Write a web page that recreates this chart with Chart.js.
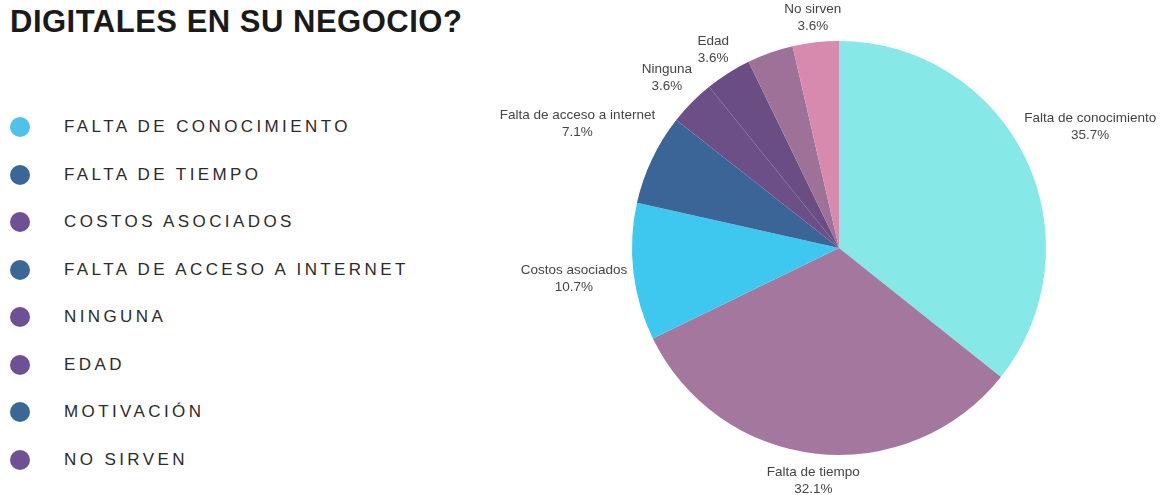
<!DOCTYPE html>
<html lang="es">
<head>
<meta charset="utf-8">
<title>Digitales en su negocio</title>
<script src="https://cdn.jsdelivr.net/npm/chart.js@4.4.1/dist/chart.umd.min.js"></script>
<style>
  html, body { margin: 0; padding: 0; background: #ffffff; }
  body { width: 1162px; height: 495px; position: relative; overflow: hidden; }
  #title {
    position: absolute; left: 10px; top: 4px;
    font-family: "Liberation Sans", Arial, sans-serif; font-weight: bold;
    font-size: 31px; letter-spacing: 0.5px; color: #1a1a1a; white-space: nowrap;
  }
  #legend { position: absolute; left: 0; top: 0; }
  .item { position: absolute; left: 10px; height: 20px; display: flex; align-items: center; }
  .dot { width: 20px; height: 20px; border-radius: 50%; }
  .txt {
    position: absolute; left: 54px; white-space: nowrap;
    font-family: "Liberation Sans", Arial, sans-serif; font-size: 17px;
    letter-spacing: 3.4px; color: #2b2b2b; line-height: 20px;
  }
  #chartBox { position: absolute; left: 470px; top: 0; width: 692px; height: 495px; }
</style>
</head>
<body>
<div id="title">DIGITALES EN SU NEGOCIO?</div>
<div id="legend"></div>
<div id="chartBox"><canvas id="pie"></canvas></div>
<script>
// Reasons for not using digital tools, share of answers (%)
const categories = [
  "Falta de conocimiento",
  "Falta de tiempo",
  "Costos asociados",
  "Falta de acceso a internet",
  "Ninguna",
  "Edad",
  "Motivación",
  "No sirven"
];
const shares = [35.7, 32.1, 10.7, 7.1, 3.6, 3.6, 3.6, 3.6];
const sliceColors = ["#87e8e8", "#a4789e", "#3ec8ef", "#3b6597", "#6c4f87", "#6a4e83", "#9e7198", "#d88aae"];
const legendColors = ["#4dc3eb", "#3b6797", "#6e5094", "#3b6797", "#6e5094", "#6e5094", "#3b6797", "#6e5094"];

// Left-hand legend
const legend = document.getElementById("legend");
categories.forEach((name, i) => {
  const row = document.createElement("div");
  row.className = "item";
  row.style.top = (117 + i * 47.5) + "px";
  const dot = document.createElement("div");
  dot.className = "dot";
  dot.style.background = legendColors[i];
  const txt = document.createElement("div");
  txt.className = "txt";
  txt.textContent = name.toUpperCase();
  row.appendChild(dot);
  row.appendChild(txt);
  legend.appendChild(row);
});

// Outside labels: name and percentage, pushed out along the slice's mid angle.
// Labels are placed from the last slice backwards; one that would overlap an
// already placed label is left out.
const outsideLabels = {
  id: "outsideLabels",
  afterDatasetsDraw(chart) {
    const ctx = chart.ctx;
    const arcs = chart.getDatasetMeta(0).data;
    const values = chart.data.datasets[0].data;
    const total = values.reduce((a, b) => a + b, 0);
    const lineH = 17, gap = 5;
    const placed = [];
    ctx.save();
    ctx.font = '13.5px "Liberation Sans", Arial, sans-serif';
    ctx.fillStyle = "#444444";
    ctx.textAlign = "center";
    ctx.textBaseline = "middle";
    for (let i = arcs.length - 1; i >= 0; i--) {
      const p = arcs[i].getProps(["x", "y", "startAngle", "endAngle", "outerRadius"], true);
      const mid = (p.startAngle + p.endAngle) / 2;
      const pct = (values[i] / total * 100).toFixed(1) + "%";
      const name = chart.data.labels[i];
      const w = Math.max(ctx.measureText(name).width, ctx.measureText(pct).width);
      const h = lineH * 2;
      const c = Math.cos(mid), s = Math.sin(mid);
      const r = p.outerRadius + gap + Math.abs(c) * w / 2 + Math.abs(s) * h / 2;
      const cx = p.x + c * r, cy = p.y + s * r;
      const box = { l: cx - w / 2, r: cx + w / 2, t: cy - h / 2, b: cy + h / 2 };
      const hit = placed.some(o => box.l < o.r && box.r > o.l && box.t < o.b && box.b > o.t);
      if (hit) continue;
      placed.push(box);
      ctx.fillText(name, cx, cy - lineH / 2);
      ctx.fillText(pct, cx, cy + lineH / 2);
    }
    ctx.restore();
  }
};

new Chart(document.getElementById("pie"), {
  type: "pie",
  data: {
    labels: categories,
    datasets: [{
      data: shares,
      backgroundColor: sliceColors,
      borderWidth: 0
    }]
  },
  options: {
    responsive: true,
    maintainAspectRatio: false,
    animation: false,
    layout: { padding: { left: 100, right: 54, top: 41, bottom: 40 } },
    plugins: {
      legend: { display: false },
      tooltip: { enabled: false }
    }
  },
  plugins: [outsideLabels]
});
</script>
</body>
</html>
